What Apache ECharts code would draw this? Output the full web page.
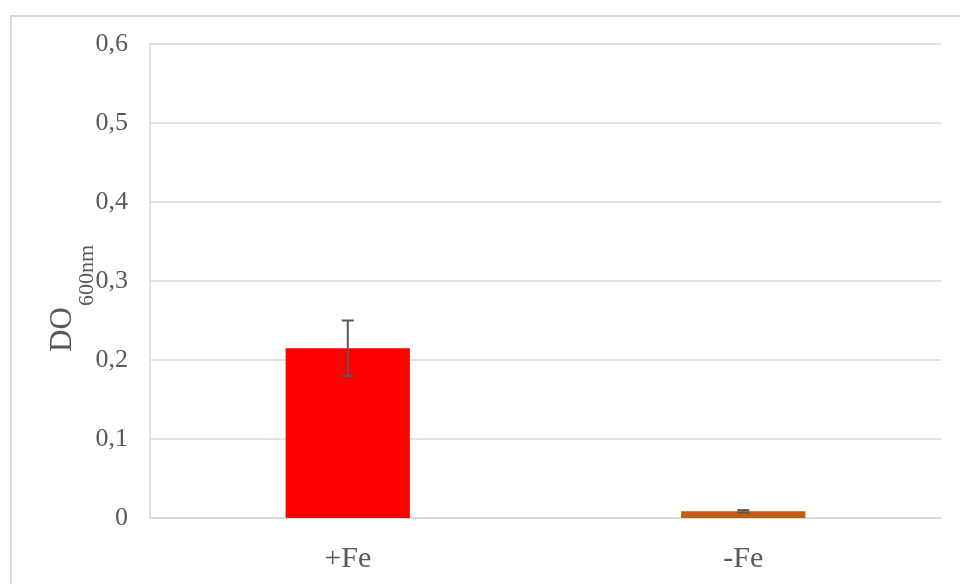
<!DOCTYPE html>
<html>
<head>
<meta charset="utf-8">
<script src="https://cdn.jsdelivr.net/npm/echarts@6/dist/echarts.min.js"></script>
<style>
html,body{margin:0;padding:0;background:#fff;}
#c{width:960px;height:584px;}
</style>
</head>
<body>
<div id="c"></div>
<script>
var categories = ['+Fe', '-Fe'];
var values = [0.215, 0.0085];
var errors = [0.035, 0.0015];
var barColors = ['#FF0000', '#C55A11'];
var yTicks = [0, 0.1, 0.2, 0.3, 0.4, 0.5, 0.6];
var yTitleMain = 'DO';
var yTitleSub = '600nm';

var chart = echarts.init(document.getElementById('c'));
var font = '"Liberation Serif", "Times New Roman", serif';

chart.setOption({
  animation: false,
  graphic: [{
    type: 'rect', left: 10, top: 15, z: -10,
    shape: {width: 980, height: 600},
    style: {fill: '#fff', stroke: '#D9D9D9', lineWidth: 2}
  }, {
    type: 'text', x: 63, y: 352, rotation: Math.PI / 2, z: 10,
    style: {
      text: yTitleMain, fontSize: 31, fontFamily: font, fill: '#595959',
      align: 'left', verticalAlign: 'middle'
    }
  }, {
    type: 'text', x: 87, y: 306, rotation: Math.PI / 2, z: 10,
    style: {
      text: yTitleSub, fontSize: 22, fontFamily: font, fill: '#595959',
      align: 'left', verticalAlign: 'middle'
    }
  }],
  grid: {left: 150, right: 19, top: 44, bottom: 66, containLabel: false},
  xAxis: {
    type: 'category',
    data: categories,
    axisLine: {show: true, lineStyle: {color: '#D9D9D9', width: 2}},
    axisTick: {show: false},
    axisLabel: {color: '#595959', fontFamily: font, fontSize: 30, margin: 26}
  },
  yAxis: {
    type: 'value',
    min: 0, max: 0.6, interval: 0.1,
    axisLine: {show: true, lineStyle: {color: '#D9D9D9', width: 1.5}},
    axisTick: {show: false},
    splitLine: {lineStyle: {color: '#D9D9D9', width: 1.5}},
    axisLabel: {
      color: '#595959', fontFamily: font, fontSize: 26, margin: 22,
      formatter: function (v) {
        var t = yTicks.reduce(function (b, x) { return Math.abs(x - v) < Math.abs(b - v) ? x : b; }, yTicks[0]);
        return String(t).replace('.', ',');
      }
    }
  },
  series: [{
    type: 'bar',
    barWidth: '31.4%',
    data: values.map(function (v, i) { return {value: v, itemStyle: {color: barColors[i]}}; }),
    z: 2
  }, {
    type: 'custom',
    z: 5,
    data: values.map(function (v, i) { return [i, v - errors[i], v + errors[i]]; }),
    renderItem: function (params, api) {
      var x = api.value(0);
      var lo = api.coord([x, api.value(1)]);
      var hi = api.coord([x, api.value(2)]);
      var cap = 6;
      var st = {stroke: '#595959', lineWidth: 2};
      return {
        type: 'group',
        children: [
          {type: 'line', shape: {x1: lo[0], y1: lo[1], x2: hi[0], y2: hi[1]}, style: st},
          {type: 'line', shape: {x1: lo[0] - cap, y1: lo[1], x2: lo[0] + cap, y2: lo[1]}, style: st},
          {type: 'line', shape: {x1: hi[0] - cap, y1: hi[1], x2: hi[0] + cap, y2: hi[1]}, style: st}
        ]
      };
    }
  }]
});
</script>
</body>
</html>
